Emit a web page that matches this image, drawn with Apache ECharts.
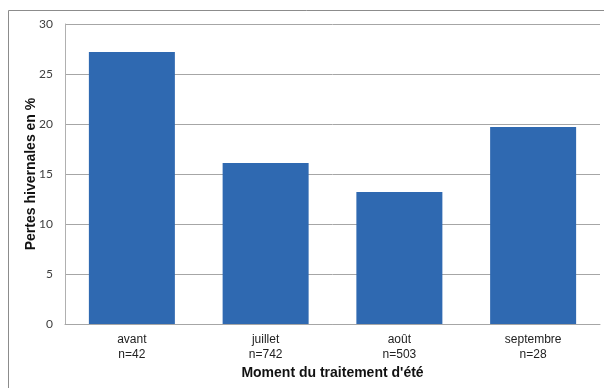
<!DOCTYPE html>
<html>
<head>
<meta charset="utf-8">
<script src="https://cdn.jsdelivr.net/npm/echarts@6/dist/echarts.min.js"></script>
<style>
  html, body { margin: 0; padding: 0; background: #fff; }
  #chart { width: 604px; height: 388px; }
</style>
</head>
<body>
<div id="chart"></div>
<script>
// Winter losses by timing of the summer treatment
const categories = ['avant', 'juillet', 'août', 'septembre'];
const sampleSizes = ['n=42', 'n=742', 'n=503', 'n=28'];
const losses = [27.2, 16.1, 13.2, 19.7];
const yTicks = { min: 0, max: 30, interval: 5 };

const chart = echarts.init(document.getElementById('chart'), null, { renderer: 'canvas' });

chart.setOption({
  animation: false,
  backgroundColor: '#ffffff',
  graphic: [{
    type: 'rect',
    shape: { x: 8.5, y: 10.5, width: 700, height: 500 },
    style: { fill: 'none', stroke: '#8c8c8c', lineWidth: 1 },
    silent: true
  }],
  grid: { left: 65, right: 4, top: 24, bottom: 64, containLabel: false },
  xAxis: {
    type: 'category',
    data: categories.map((c, i) => c + '\n' + sampleSizes[i]),
    name: "Moment du traitement d'été",
    nameLocation: 'middle',
    nameGap: 42,
    nameMoveOverlap: false,
    nameTextStyle: { fontFamily: 'Liberation Sans', fontWeight: 'bold', fontSize: 14, color: '#111' },
    axisLine: { show: true, lineStyle: { color: '#a6a6a6', width: 1 } },
    axisTick: { show: false },
    axisLabel: {
      margin: 8,
      fontFamily: 'Liberation Sans',
      fontSize: 12,
      lineHeight: 15,
      color: '#222'
    }
  },
  yAxis: {
    type: 'value',
    min: yTicks.min,
    max: yTicks.max,
    interval: yTicks.interval,
    name: 'Pertes hivernales en %',
    nameLocation: 'middle',
    nameGap: 27,
    nameMoveOverlap: false,
    nameTextStyle: { fontFamily: 'Liberation Sans', fontWeight: 'bold', fontSize: 14, color: '#111' },
    axisLine: { show: true, lineStyle: { color: '#b0b0b0', width: 1 } },
    axisTick: { show: false },
    axisLabel: {
      margin: 12,
      fontFamily: 'Lato',
      fontSize: 12,
      color: '#404040'
    },
    splitLine: { show: true, lineStyle: { color: '#a6a6a6', width: 1 } }
  },
  series: [{
    type: 'bar',
    data: losses,
    barWidth: 86,
    itemStyle: { color: '#2f69b1' }
  }]
});
</script>
</body>
</html>
